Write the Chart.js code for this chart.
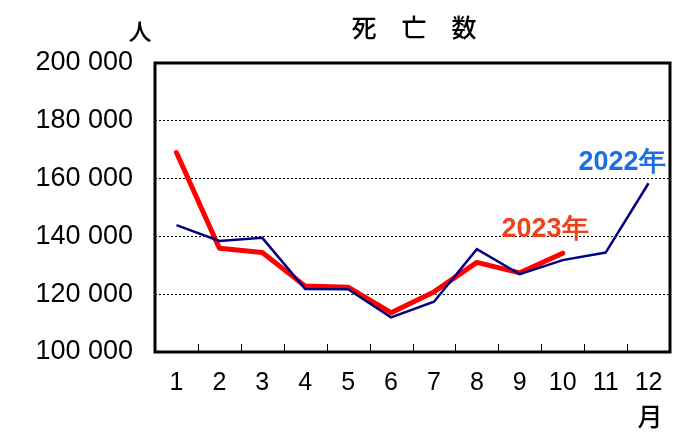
<!DOCTYPE html>
<html>
<head>
<meta charset="utf-8">
<script src="https://cdn.jsdelivr.net/npm/chart.js@4.4.0/dist/chart.umd.min.js"></script>
<style>
  html, body { margin: 0; padding: 0; background: #fff; }
  #wrap { width: 696px; height: 444px; }
</style>
</head>
<body>
<div id="wrap"><canvas id="chart"></canvas></div>
<script>
// data
var months = ['1', '2', '3', '4', '5', '6', '7', '8', '9', '10', '11', '12'];
var deaths2022 = [143900, 138400, 139500, 121800, 121700, 112000, 117400, 135600, 126900, 131800, 134400, 158400];
var deaths2023 = [169000, 135900, 134400, 122800, 122400, 113600, 120800, 131000, 127400, 134200];
var yTicks = [100000, 120000, 140000, 160000, 180000, 200000];

var numFont = '"Liberation Sans", Arial, sans-serif';
var jpFont = '"Noto Sans CJK JP", sans-serif';

function fmt(v) {
	return String(v).replace(/\B(?=(\d{3})+(?!\d))/g, ' ');
}

// box, inner ticks and the text bits
var extras = {
	id: 'extras',
	afterDraw: function(chart) {
		var ctx = chart.ctx, a = chart.chartArea;
		var xs = chart.scales.x;
		ctx.save();
		ctx.strokeStyle = '#000';
		ctx.lineWidth = 1;
		for (var i = 0; i < months.length - 1; i++) {
			var x = Math.round((xs.getPixelForValue(i) + xs.getPixelForValue(i + 1)) / 2) + 0.5;
			ctx.beginPath();
			ctx.moveTo(x, a.bottom);
			ctx.lineTo(x, a.bottom - 8);
			ctx.stroke();
		}
		ctx.lineWidth = 3;
		ctx.strokeRect(a.left, a.top, a.right - a.left, a.bottom - a.top);

		ctx.fillStyle = '#000';
		ctx.textAlign = 'center';
		ctx.textBaseline = 'middle';
		ctx.font = '500 25px ' + jpFont;
		ctx.fillText('死', 364, 27);
		ctx.fillText('亡', 414, 27);
		ctx.fillText('数', 464, 27);
		ctx.font = '500 23px ' + jpFont;
		ctx.fillText('人', 140, 31);
		ctx.font = '500 25px ' + jpFont;
		ctx.fillText('月', 650, 416);

		ctx.font = 'bold 27px ' + numFont;
		ctx.fillStyle = '#1a6fe6';
		ctx.fillText('2022年', 622, 163);
		ctx.fillStyle = '#f2401c';
		ctx.fillText('2023年', 545, 230);
		ctx.restore();
	}
};

var ctx = document.getElementById('chart').getContext('2d');
var chart = new Chart(ctx, {
	type: 'line',
	data: {
		labels: months,
		datasets: [{
			label: '2023年',
			data: deaths2023,
			borderColor: '#ff0000',
			borderWidth: 5,
			borderCapStyle: 'round',
			borderJoinStyle: 'round',
			pointRadius: 0,
			tension: 0,
			order: 1
		}, {
			label: '2022年',
			data: deaths2022,
			borderColor: '#000080',
			borderWidth: 2.5,
			pointRadius: 0,
			tension: 0,
			order: 0
		}]
	},
	options: {
		responsive: true,
		maintainAspectRatio: false,
		animation: false,
		layout: { padding: { left: 0, top: 63, right: 26, bottom: 0 } },
		plugins: {
			legend: { display: false },
			title: { display: false },
			tooltip: { enabled: false }
		},
		scales: {
			x: {
				offset: true,
				grid: { display: false, drawTicks: false },
				border: { display: false },
				ticks: {
					color: '#000',
					padding: 16,
					maxRotation: 0,
					font: { family: numFont, size: 25 }
				},
				afterFit: function(s) { s.height = 92; }
			},
			y: {
				min: 100000,
				max: 200000,
				afterBuildTicks: function(s) {
					s.ticks = yTicks.map(function(v) { return { value: v }; });
				},
				grid: {
					drawTicks: false,
					color: function(c) {
						return (c.tick.value > 100000 && c.tick.value < 200000) ? '#000' : 'rgba(0,0,0,0)';
					},
					lineWidth: 1
				},
				border: { display: false, dash: [2, 2] },
				ticks: {
					color: '#000',
					padding: 22,
					font: { family: numFont, size: 27 },
					callback: function(v) { return fmt(v); }
				},
				afterFit: function(s) { s.width = 155; }
			}
		}
	},
	plugins: [extras]
});
</script>
</body>
</html>
